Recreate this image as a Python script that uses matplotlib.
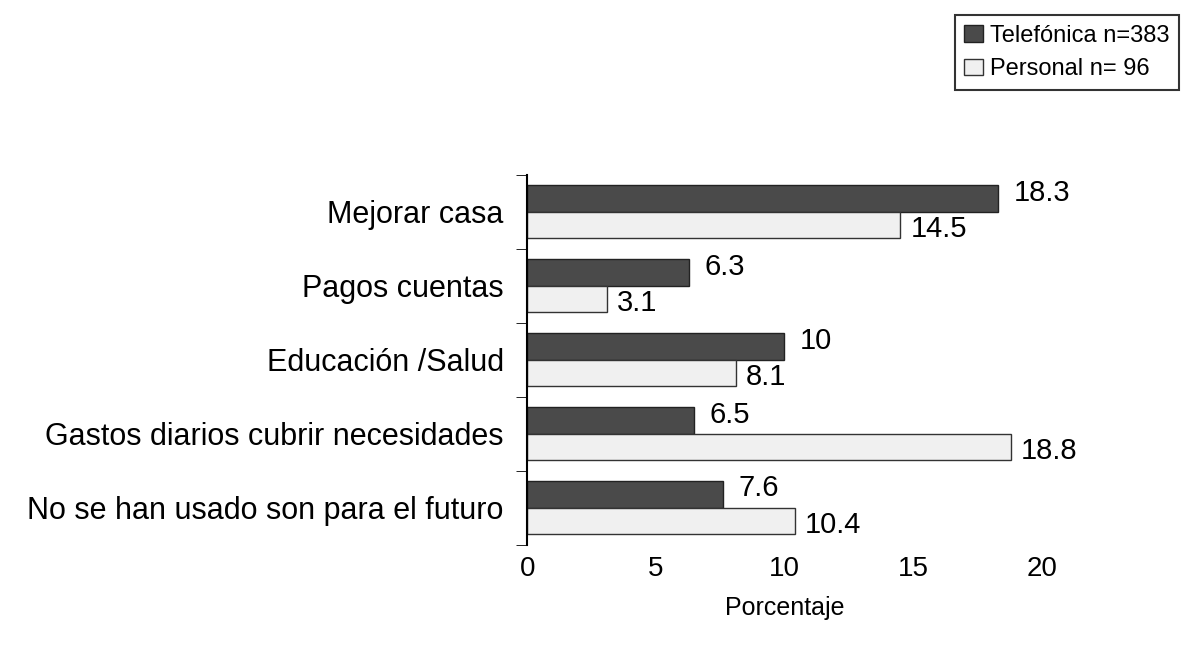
import numpy as np
import matplotlib.pyplot as plt

plt.rcParams['font.family'] = ['Liberation Sans', 'DejaVu Sans']

categories = ['Mejorar casa', 'Pagos cuentas', 'Educación /Salud',
              'Gastos diarios cubrir necesidades', 'No se han usado son para el futuro']
telefonica = [18.3, 6.3, 10, 6.5, 7.6]
personal = [14.5, 3.1, 8.1, 18.8, 10.4]

fig = plt.figure(figsize=(11.85, 6.5), dpi=100)
ax = fig.add_axes([0.445, 0.162, 0.434, 0.569])

y = np.arange(len(categories))[::-1].astype(float)
h = 0.36
ax.barh(y + h / 2, telefonica, height=h, color='#4a4a4a', edgecolor='#222222', linewidth=1)
ax.barh(y - h / 2, personal, height=h, color='#f0f0f0', edgecolor='#333333', linewidth=1)

for yi, t, p in zip(y, telefonica, personal):
    ax.text(t + 0.6, yi + h / 2 + 0.08, f'{t:g}', fontsize=21, va='center')
    ax.text(p + 0.4, yi - h / 2 - 0.05, f'{p:g}', fontsize=21, va='center')

ax.set_xlim(0, 20)
ax.set_ylim(-0.5, len(categories) - 0.5)
ax.set_xticks([0, 5, 10, 15, 20])
ax.set_yticks(y)
ax.set_yticklabels(categories, fontsize=22)
ax.set_yticks(np.arange(-0.5, len(categories)), minor=True)
ax.tick_params(axis='y', which='major', length=0, pad=17)
ax.tick_params(axis='y', which='minor', length=8, direction='out')
ax.tick_params(axis='x', labelsize=20, length=0, pad=8)
for s in ['top', 'right', 'bottom']:
    ax.spines[s].set_visible(False)
ax.spines['left'].set_linewidth(1.5)
ax.set_xlabel('Porcentaje', fontsize=18, labelpad=10)

leg = fig.legend(['Telefónica n=383', 'Personal n= 96'], loc='upper right',
                 bbox_to_anchor=(1.005, 0.995), fontsize=17, frameon=True,
                 fancybox=False, edgecolor='black', handlelength=0.8,
                 handletextpad=0.3, borderpad=0.4, labelspacing=0.5)
leg.get_frame().set_linewidth(1.5)

fig.savefig('out.png', dpi=100)
